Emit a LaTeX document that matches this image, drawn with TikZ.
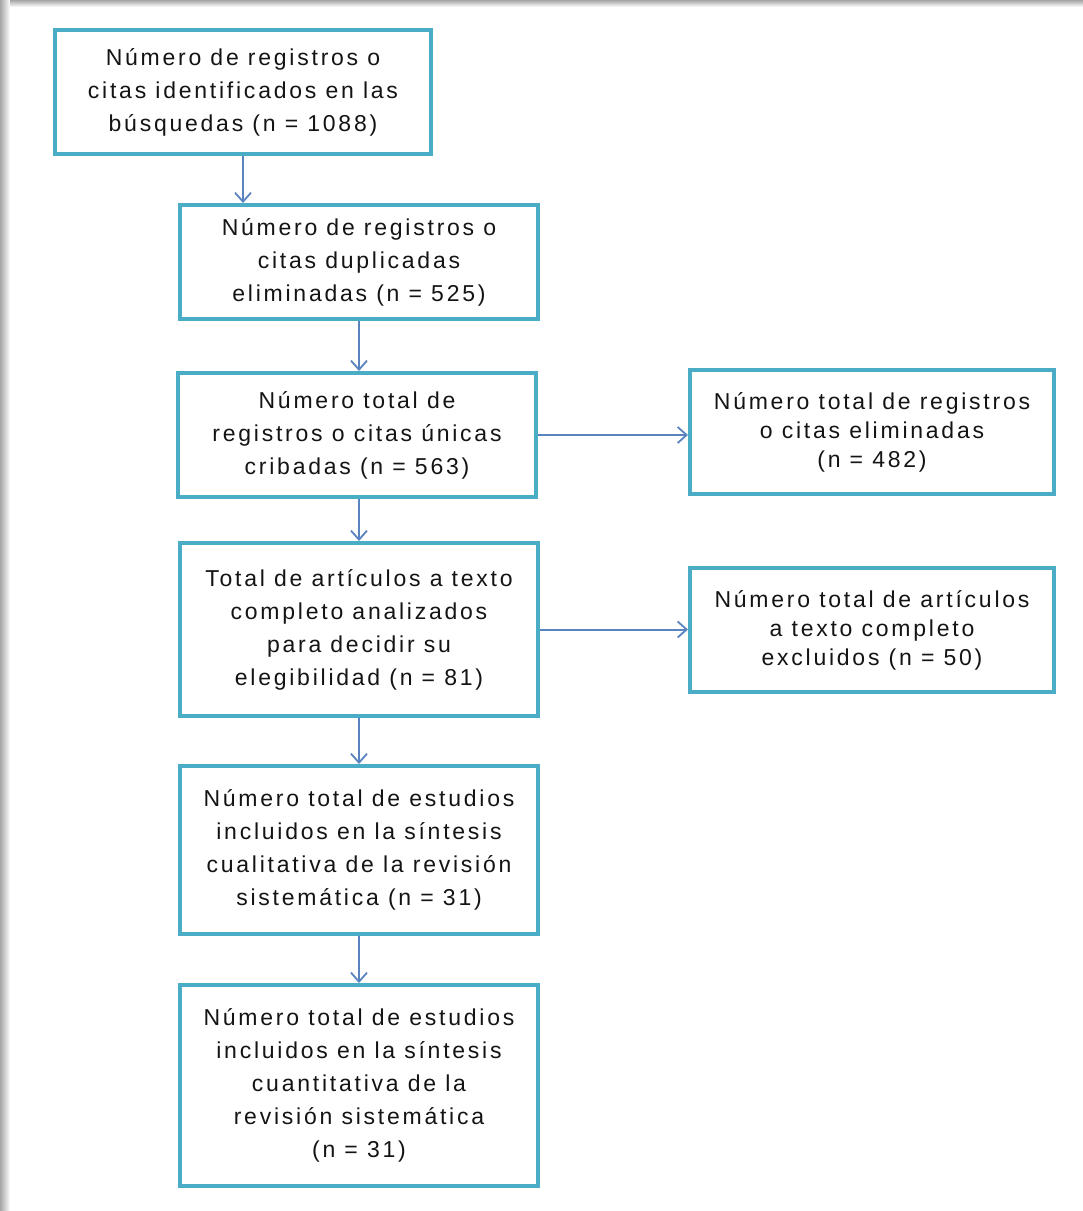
\documentclass[tikz,border=0pt]{standalone}
\usepackage{fontspec}
\setmainfont{Liberation Sans}[LetterSpace=12]
\usetikzlibrary{arrows.meta}
\definecolor{boxc}{HTML}{4BACC6}
\definecolor{arrc}{HTML}{5A84C0}
\definecolor{txtc}{HTML}{141414}
\begin{document}
\begin{tikzpicture}[x=1pt,y=-1pt,
  box/.style={draw=boxc,line width=4pt,fill=white,align=center,text=txtc,
    inner sep=0pt,font=\fontsize{23}{33}\selectfont},
  rbox/.style={box,font=\fontsize{23}{29}\selectfont},
  arr/.style={draw=arrc,line width=2pt,-{Straight Barb[length=9pt,width=16pt,line width=1.8pt]}}]
\useasboundingbox (0,0) rectangle (1083,1211);
\fill[white] (0,0) rectangle (1083,1211);
% frame shadow
\shade[left color=gray!70,right color=white] (0,0) rectangle (10,1211);
\shade[top color=gray!70,bottom color=white] (10,0) rectangle (1083,7);
\node[box,minimum width=376pt,minimum height=124pt] (b1) at (243,92)
  {Número de registros o\\citas identificados en las\\búsquedas (n = 1088)};
\node[box,minimum width=358pt,minimum height=114pt] (b2) at (359,262)
  {Número de registros o\\citas duplicadas\\eliminadas (n = 525)};
\node[box,minimum width=358pt,minimum height=124pt] (b3) at (357,435)
  {Número total de\\registros o citas únicas\\cribadas (n = 563)};
\node[rbox,minimum width=364pt,minimum height=124pt] (b4) at (872,432)
  {Número total de registros\\o citas eliminadas\\(n = 482)};
\node[box,minimum width=358pt,minimum height=173pt] (b5) at (359,629.5)
  {Total de artículos a texto\\completo analizados\\para decidir su\\elegibilidad (n = 81)};
\node[rbox,minimum width=364pt,minimum height=124pt] (b6) at (872,630)
  {Número total de artículos\\a texto completo\\excluidos (n = 50)};
\node[box,minimum width=358pt,minimum height=168pt] (b7) at (359,850)
  {Número total de estudios\\incluidos en la síntesis\\cualitativa de la revisión\\sistemática (n = 31)};
\node[box,minimum width=358pt,minimum height=201pt] (b8) at (359,1085.5)
  {Número total de estudios\\incluidos en la síntesis\\cuantitativa de la\\revisión sistemática\\(n = 31)};
\draw[arr] (b1.south) -- (b1.south |- b2.north);
\draw[arr] (b2.south) -- (b2.south |- b3.north);
\draw[arr] (b3.south -| b2.south) -- (b2.south |- b5.north);
\draw[arr] (b5.south) -- (b5.south |- b7.north);
\draw[arr] (b7.south) -- (b7.south |- b8.north);
\draw[arr] (b3.east) -- (b3.east -| b4.west);
\draw[arr] (b5.east) -- (b5.east -| b6.west);
\end{tikzpicture}
\end{document}
